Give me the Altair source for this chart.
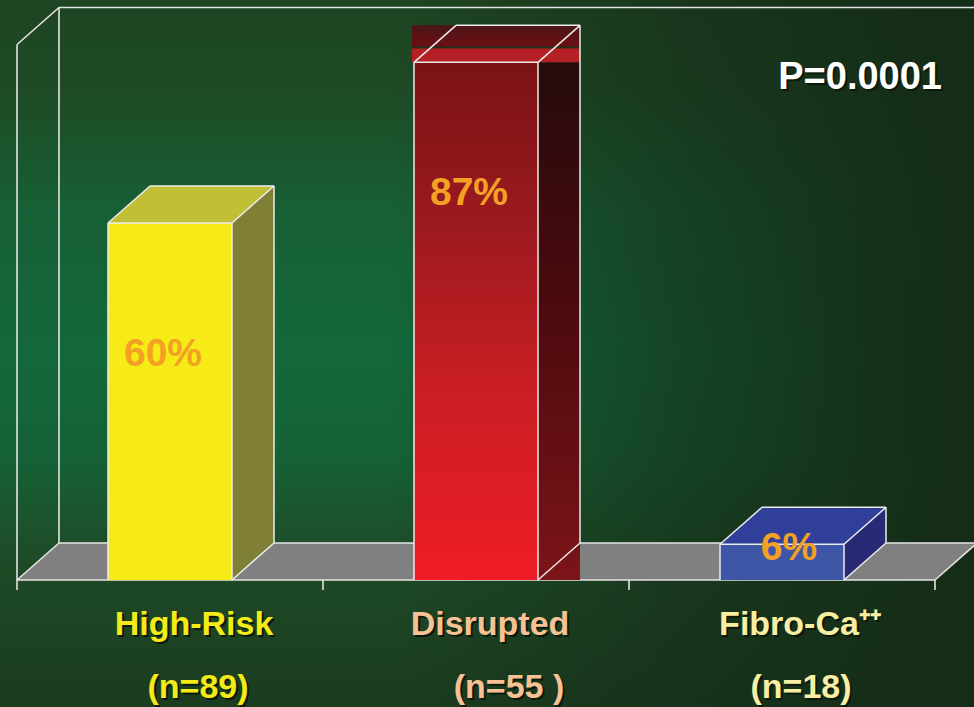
import altair as alt
import numpy as np
import pandas as pd

# ---- data -------------------------------------------------------------
categories = ["High-Risk", "Disrupted", "Fibro-Ca\u207a\u207a"]
n_labels = ["(n=89)", "(n=55 )", "(n=18)"]
percents = [60, 87, 6]
p_value_text = "P=0.0001"
axis_max = 90

# ---- layout -----------------------------------------------------------
W, H = 974, 707
SLOT_PX = 306          # pixels per category slot
LEFT_PX = 17           # left edge of the floor front
FLOOR_PX = 580         # y pixel of value 0 on the front plane
PX_PER_PCT = 5.95      # pixels per percentage point
CAT_DX = [24, 14, 18]  # horizontal nudges of the category captions (px)
N_DX = [28, 33, 19]    # horizontal nudges of the sample-size captions (px)

x_dom = [-LEFT_PX / SLOT_PX, (W - LEFT_PX) / SLOT_PX]
y_min = -(H - FLOOR_PX) / PX_PER_PCT
y_dom = [y_min, y_min + H / PX_PER_PCT]
xs = alt.Scale(domain=x_dom, nice=False, zero=False)
ys = alt.Scale(domain=y_dom, nice=False, zero=False)

DX = 42 / SLOT_PX      # depth shift, in slot units
DY = 37 / PX_PER_PCT   # depth shift, in percent units
HALF = 62 / SLOT_PX    # half-width of a bar's front face
N = len(categories)

bars = pd.DataFrame({"cat": categories, "n": n_labels, "pct": percents})
bars["cx"] = np.arange(N) + 0.5
bars["x0"] = bars["cx"] - HALF
bars["x1"] = bars["cx"] + HALF
bars["zero"] = 0.0

faces = {
    "High-Risk": dict(front="#f6eb16", top="#c0bf36", side="#7f8036"),
    "Fibro-Ca\u207a\u207a": dict(front="#3d56a6", top="#30409a", side="#282a76"),
}

X = alt.X("x:Q", scale=xs, axis=None)
Y = alt.Y("y:Q", scale=ys, axis=None)


def grad(stops, horizontal=False):
    return alt.LinearGradient(
        gradient="linear",
        stops=[alt.GradientStop(color=c, offset=o) for o, c in stops],
        x1=0, y1=0, x2=1 if horizontal else 0, y2=0 if horizontal else 1,
    )


# ---- background: green glow on the left, fading dark to the right ----
one_row = pd.DataFrame({"k": [0]})
full = dict(x=alt.value(0), x2=alt.value(W), y=alt.value(0), y2=alt.value(H))
bg = alt.Chart(one_row).mark_rect(
    fill=grad([(0, "#1e4522"), (0.12, "#1e4a24"), (0.3, "#176035"), (0.5, "#13683a"),
               (0.64, "#156236"), (0.8, "#1e4a26"), (1, "#1b3c1f")])
).encode(**full)
bg_shade = alt.Chart(one_row).mark_rect(
    fill=grad([(0, "rgba(21,44,23,0)"), (0.4, "rgba(21,44,23,0)"), (0.55, "rgba(21,44,23,0.3)"),
               (0.7, "rgba(21,44,23,0.6)"), (0.9, "rgba(21,44,23,0.9)"), (1, "rgba(21,44,23,1)")],
              horizontal=True)
).encode(**full)

# ---- floor ------------------------------------------------------------
floor_df = pd.DataFrame({
    "y": [0.0, DY],
    "x": [0.0, DX],
    "x2": [float(N), N + DX],
})
floor = alt.Chart(floor_df).mark_area(orient="horizontal", color="#808080").encode(
    y=Y, x=X, x2="x2:Q"
)

# ---- frame edges: floor, walls and category ticks ---------------------
top_v = axis_max
edges = [
    (0, 0, N, 0),
    (DX, DY, N + DX, DY),
    (0, 0, DX, DY),
    (N, 0, N + DX, DY),
    (0, 0, 0, top_v),
    (0, top_v, DX, top_v + DY),
    (DX, DY, DX, top_v + DY),
    (DX, top_v + DY, x_dom[1], top_v + DY),
]
tick_len = 10 / PX_PER_PCT
edges += [(i, 0, i, -tick_len) for i in range(N + 1)]
frame_df = pd.DataFrame(edges, columns=["x", "y", "x2", "y2"])
frame = alt.Chart(frame_df).mark_rule(color="#e4e4e4", strokeWidth=1.6).encode(
    x=X, y=Y, x2="x2:Q", y2="y2:Q"
)

# ---- bars -------------------------------------------------------------
layers = []
bar_edges = []
for _, b in bars.iterrows():
    x0, x1, t = b["x0"], b["x1"], b["pct"]
    one = pd.DataFrame([b])
    if b["cat"] in faces:
        col = faces[b["cat"]]
        side_df = pd.DataFrame({"x": [x1, x1 + DX], "y": [t, t + DY], "y2": [0.0, DY]})
        top_df = pd.DataFrame({"y": [t, t + DY], "x": [x0, x0 + DX], "x2": [x1, x1 + DX]})
        layers.append(alt.Chart(side_df).mark_area(color=col["side"]).encode(x=X, y=Y, y2="y2:Q"))
        layers.append(alt.Chart(top_df).mark_area(orient="horizontal", color=col["top"]).encode(y=Y, x=X, x2="x2:Q"))
        layers.append(alt.Chart(one).mark_rect(color=col["front"]).encode(
            x=alt.X("x0:Q", scale=xs, axis=None), x2="x1:Q",
            y=alt.Y("zero:Q", scale=ys, axis=None), y2="pct:Q"))
    else:
        # shaded red bar: side block, capping block and front face
        side_df = pd.DataFrame({"x": [x1], "x2": [x1 + DX], "y": [0.0], "y2": [t]})
        cap_df = pd.DataFrame({"x": [x0 - 2 / SLOT_PX], "x2": [x1 + DX], "y": [t], "y2": [t + DY]})
        layers.append(alt.Chart(side_df).mark_rect(
            fill=grad([(0, "#250b0d"), (0.45, "#4a0a0d"), (1, "#7c1418")])
        ).encode(x=X, x2="x2:Q", y=Y, y2="y2:Q"))
        layers.append(alt.Chart(cap_df).mark_rect(
            fill=grad([(0, "#4a1517"), (0.5, "#6a1014"), (0.56, "#6a1014"),
                       (0.57, "#2b2a1a"), (0.62, "#2b2a1a"), (0.63, "#b52025"), (1, "#b52025")])
        ).encode(x=X, x2="x2:Q", y=Y, y2="y2:Q"))
        layers.append(alt.Chart(one).mark_rect(
            fill=grad([(0, "#7a1215"), (0.3, "#9a1a1e"), (0.65, "#cc1e24"), (1, "#ef1c25")])
        ).encode(
            x=alt.X("x0:Q", scale=xs, axis=None), x2="x1:Q",
            y=alt.Y("zero:Q", scale=ys, axis=None), y2="pct:Q"))
    bar_edges += [
        (x0, 0, x0, t), (x1, 0, x1, t), (x0, t, x1, t),
        (x0 + DX, t + DY, x1 + DX, t + DY),
        (x0, t, x0 + DX, t + DY), (x1, t, x1 + DX, t + DY),
        (x1 + DX, t + DY, x1 + DX, DY), (x1, 0, x1 + DX, DY),
    ]

bar_edge_df = pd.DataFrame(bar_edges, columns=["x", "y", "x2", "y2"])
bar_outline = alt.Chart(bar_edge_df).mark_rule(color="#ececec", strokeWidth=1.5).encode(
    x=X, y=Y, x2="x2:Q", y2="y2:Q"
)

# ---- text -------------------------------------------------------------
bars["label"] = bars["pct"].astype(str) + "%"
bars["label_y"] = np.where(bars["pct"] > 20, bars["pct"] - 24.0, bars["pct"] - 2.65)
bars["label_x"] = bars["cx"] + np.where(bars["pct"] > 20, -7, 7) / SLOT_PX
bars["cat_x"] = bars["cx"] + np.array(CAT_DX) / SLOT_PX
bars["n_x"] = bars["cx"] + np.array(N_DX) / SLOT_PX
bars["cat_y"] = (FLOOR_PX - 635) / PX_PER_PCT
bars["n_y"] = (FLOOR_PX - 698) / PX_PER_PCT

FONT = "Liberation Sans"
pct_text = alt.Chart(bars).mark_text(
    font=FONT, fontWeight="bold", fontSize=39, color="#f4a024", baseline="alphabetic"
).encode(
    x=alt.X("label_x:Q", scale=xs, axis=None),
    y=alt.Y("label_y:Q", scale=ys, axis=None),
    text="label:N",
)

cat_colors = alt.Scale(domain=categories, range=["#f4ea18", "#f6c294", "#f8efa2"])


def shadowed(field, xfield, yfield, size):
    base = alt.Chart(bars)
    enc = dict(
        x=alt.X(f"{xfield}:Q", scale=xs, axis=None),
        y=alt.Y(f"{yfield}:Q", scale=ys, axis=None),
        text=f"{field}:N",
    )
    shadow = base.mark_text(
        font=FONT, fontWeight="bold", fontSize=size, color="#0b1a0c",
        baseline="alphabetic", dx=2, dy=2,
    ).encode(**enc)
    front = base.mark_text(
        font=FONT, fontWeight="bold", fontSize=size, baseline="alphabetic",
    ).encode(color=alt.Color("cat:N", scale=cat_colors, legend=None), **enc)
    return shadow + front


cat_text = shadowed("cat", "cat_x", "cat_y", 34)
n_text = shadowed("n", "n_x", "n_y", 34)

p_df = pd.DataFrame({"t": [p_value_text]})
p_shadow = alt.Chart(p_df).mark_text(
    font=FONT, fontWeight="bold", fontSize=38, color="#0b1a0c", align="right", baseline="alphabetic"
).encode(x=alt.value(944), y=alt.value(91), text="t:N")
p_text = alt.Chart(p_df).mark_text(
    font=FONT, fontWeight="bold", fontSize=38, color="#ffffff", align="right", baseline="alphabetic"
).encode(x=alt.value(942), y=alt.value(89), text="t:N")

chart = alt.layer(
    bg, bg_shade, floor, frame, *layers, bar_outline, pct_text, cat_text, n_text, p_shadow, p_text
).properties(
    width=W, height=H, padding=0, autosize=alt.AutoSizeParams(type="none"),
    background="#1b3a1e",
).configure_view(stroke=None)

chart.save("out.html", embed_options={"renderer": "svg", "actions": False})
